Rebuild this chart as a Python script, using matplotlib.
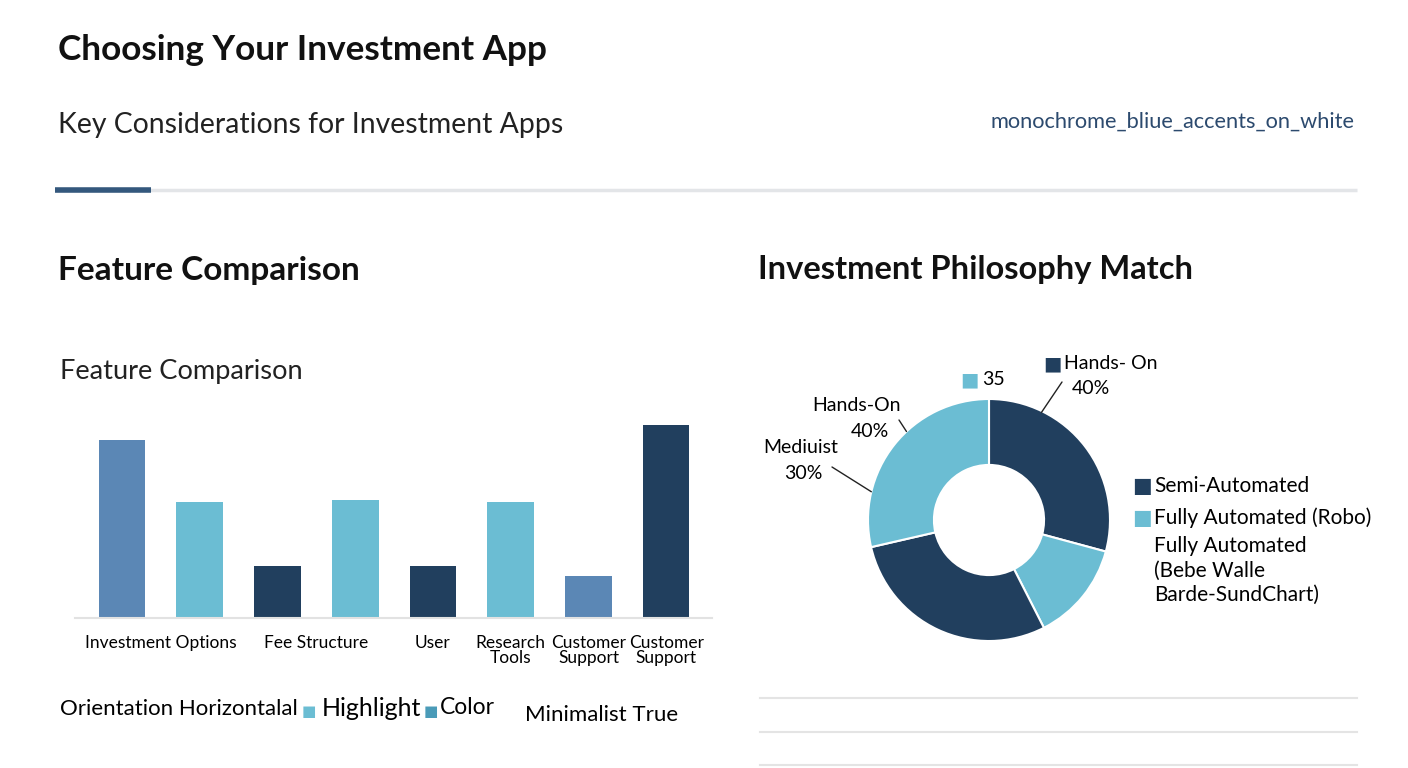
import matplotlib.pyplot as plt
import numpy as np

plt.rcParams['font.family'] = ['Lato', 'DejaVu Sans']

# Datos
bar_values = [92, 60, 27, 61, 27, 60, 22, 100]
bar_colors = ['#5b87b5', '#6bbdd3', '#213f5e', '#6bbdd3', '#213f5e', '#6bbdd3', '#5b87b5', '#213f5e']
tick_pos = [0.5, 2.5, 4, 5, 6, 7]
tick_labels = ['Investment Options', 'Fee Structure', 'User', 'Research\nTools',
               'Customer\nSupport', 'Customer\nSupport']

donut_values = [29.2, 13.3, 28.9, 28.6]
donut_colors = ['#213f5e', '#6bbdd3', '#213f5e', '#6bbdd3']

W, H = 1408, 768
DARK = '#213f5e'
LIGHT = '#6bbdd3'


def fx(x):
    return x / W


def fy(y):
    return 1 - y / H


def box(x0, y0, x1, y1):
    return [fx(x0), fy(y1), (x1 - x0) / W, (y1 - y0) / H]


fig = plt.figure(figsize=(14.08, 7.68), dpi=100)
fig.patch.set_facecolor('white')

# Cabecera
fig.text(fx(58), fy(50), 'Choosing Your Investment App', fontsize=25.3, fontweight='bold',
         va='center', ha='left', color='#111111')
fig.text(fx(58), fy(125), 'Key Considerations for Investment Apps', fontsize=20.4,
         va='center', ha='left', color='#222222')
fig.text(fx(1355), fy(122), 'monochrome_bliue_accents_on_white', fontsize=15.7,
         va='center', ha='right', color='#2c4a6e')

line_ax = fig.add_axes([0, 0, 1, 1], facecolor='none')
line_ax.set_xlim(0, W)
line_ax.set_ylim(H, 0)
line_ax.axis('off')
line_ax.plot([55, 1357], [190, 190], color='#e3e5e8', lw=2.5, solid_capstyle='butt')
line_ax.plot([55, 151], [190, 190], color='#34587d', lw=4, solid_capstyle='butt')
for yy in [698, 732, 765]:
    line_ax.plot([760, 1357], [yy, yy], color='#e4e4e4', lw=1.5)

fig.text(fx(58), fy(271), 'Feature Comparison', fontsize=24, fontweight='bold',
         va='center', ha='left', color='#111111')
fig.text(fx(758), fy(270), 'Investment Philosophy Match', fontsize=23.5, fontweight='bold',
         va='center', ha='left', color='#111111')
fig.text(fx(60), fy(371), 'Feature Comparison', fontsize=19.6, va='center', ha='left',
         color='#222222')

# Barras
ax = fig.add_axes(box(75, 425, 712, 618))
x = np.arange(len(bar_values))
ax.bar(x, bar_values, width=0.6, color=bar_colors)
ax.set_xlim(-0.605, 7.59)
ax.set_ylim(0, 100)
for s in ['top', 'right', 'left']:
    ax.spines[s].set_visible(False)
ax.spines['bottom'].set_color('#e2e2e2')
ax.spines['bottom'].set_linewidth(1.5)
ax.set_yticks([])
ax.set_xticks(tick_pos)
ax.set_xticklabels(tick_labels, fontsize=12.5, linespacing=0.95, va='top')
ax.tick_params(axis='x', length=0, pad=12)
ax.patch.set_alpha(0)

# Leyenda inferior
fig.text(fx(60), fy(709), 'Orientation Horizontalal', fontsize=16, va='center', ha='left')
fig.text(fx(302), fy(711), '\u25a0', fontsize=11, va='center', ha='left', color=LIGHT,
         family=['DejaVu Sans'])
fig.text(fx(322), fy(708), 'Highlight', fontsize=18, va='center', ha='left')
fig.text(fx(424), fy(711), '\u25a0', fontsize=11, va='center', ha='left', color='#4a9bb8',
         family=['DejaVu Sans'])
fig.text(fx(440), fy(708), 'Color', fontsize=16.5, va='center', ha='left')
fig.text(fx(525), fy(715), 'Minimalist True', fontsize=16, va='center', ha='left')

# Dona
cx, cy, r = 989, 520, 121
ax2 = fig.add_axes(box(cx - r, cy - r, cx + r, cy + r))
wedges, _ = ax2.pie(donut_values, colors=donut_colors, startangle=90, counterclock=False,
                    radius=1, wedgeprops=dict(width=0.545, edgecolor='white', linewidth=1.5))
ax2.set_xlim(-1, 1)
ax2.set_ylim(-1, 1)
ax2.set_aspect('equal')


def p(px, py):
    return ((px - cx) / r, (cy - py) / r)


def edge(ang, rad=1.0):
    a = np.deg2rad(ang)
    return (rad * np.cos(a), rad * np.sin(a))


line_kw = dict(arrowstyle='-', color='#222222', lw=1, shrinkA=0, shrinkB=0)
ax2.annotate('', xy=edge(64, 0.99), xytext=p(1062, 382), arrowprops=line_kw,
             annotation_clip=False)
ax2.annotate('', xy=edge(133, 1.0), xytext=p(899, 420), arrowprops=line_kw,
             annotation_clip=False)
ax2.annotate('', xy=edge(166.5, 1.0), xytext=p(832, 467), arrowprops=line_kw,
             annotation_clip=False)

t = dict(fontsize=14, va='center', clip_on=False)
ax2.text(*p(1043, 364), '\u25a0', color=DARK, ha='left', family=['DejaVu Sans'], **t)
ax2.text(*p(1064, 364), 'Hands- On', ha='left', **t)
ax2.text(*p(1091, 389), '40%', ha='center', **t)
ax2.text(*p(960, 380), '\u25a0', color=LIGHT, ha='left', family=['DejaVu Sans'], **t)
ax2.text(*p(982, 380), '35', ha='left', **t)
ax2.text(*p(856, 406), 'Hands-On', ha='center', **t)
ax2.text(*p(870, 432), '40%', ha='center', **t)
ax2.text(*p(801, 448), 'Mediuist', ha='center', **t)
ax2.text(*p(803, 474), '30%', ha='center', **t)

# Leyenda derecha
fig.text(fx(1132), fy(486), '\u25a0', fontsize=15, color=DARK, va='center', ha='left',
         family=['DejaVu Sans'])
fig.text(fx(1154), fy(486), 'Semi-Automated', fontsize=15, va='center', ha='left')
fig.text(fx(1132), fy(518), '\u25a0', fontsize=15, color=LIGHT, va='center', ha='left',
         family=['DejaVu Sans'])
fig.text(fx(1154), fy(518), 'Fully Automated (Robo)', fontsize=15, va='center', ha='left')
for i, line in enumerate(['Fully Automated', '(Bebe Walle', 'Barde-SundChart)']):
    fig.text(fx(1154), fy(546 + 24.5 * i), line, fontsize=15, va='center', ha='left')

fig.savefig('out.png', dpi=100, facecolor='white')
